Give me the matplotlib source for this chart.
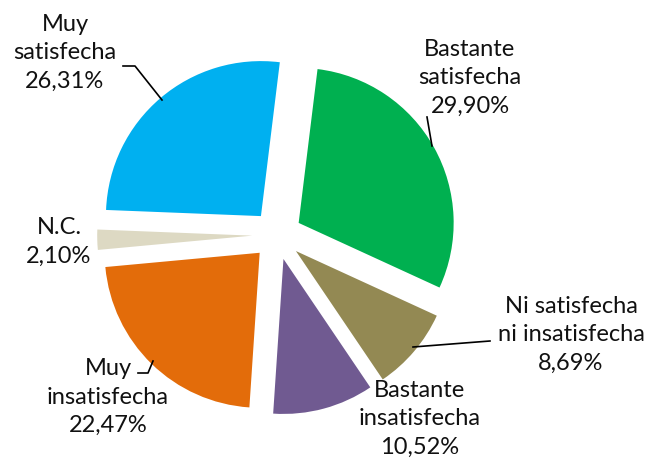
import matplotlib.pyplot as plt

labels = ["Bastante\nsatisfecha", "Ni satisfecha\nni insatisfecha", "Bastante\ninsatisfecha",
          "Muy\ninsatisfecha", "N.C.", "Muy\nsatisfecha"]
values = [29.90, 8.69, 10.52, 22.47, 2.10, 26.31]
pct_labels = ["29,90%", "8,69%", "10,52%", "22,47%", "2,10%", "26,31%"]
colors = ["#00B050", "#938953", "#705A91", "#E36C0A", "#DDD9C3", "#00B0F0"]

W, H = 650, 464
cx, cy, R = 277, 236, 155  # pie centre and radius in pixels


def px(x, y):
    return (x - cx) / R, (cy - y) / R


fig = plt.figure(figsize=(W / 100, H / 100), dpi=100)
ax = fig.add_axes([0, 0, 1, 1])
ax.pie(values, colors=colors, startangle=83, counterclock=False,
       explode=[0.16] * len(values), wedgeprops=dict(linewidth=0))
ax.set_xlim(-cx / R, (W - cx) / R)
ax.set_ylim(-(H - cy) / R, cy / R)
ax.set_aspect("auto")
ax.axis("off")

# label block centres (pixels)
label_pos = [(470, 78), (571, 335), (420, 419), (108, 397), (59, 242), (65, 53)]
for lab, pct, (x, y) in zip(labels, pct_labels, label_pos):
    tx, ty = px(x, y)
    ax.text(tx, ty, lab + "\n" + pct, ha="center", va="center", fontsize=17,
            family="Lato", linespacing=1.42, color="#111111")

leaders = [
    [(123, 67), (135, 67), (162, 101)],
    [(427, 118), (432, 147)],
    [(490, 342), (477, 343), (413, 348)],
    [(138, 374), (148, 374), (153, 362)],
]
for pts in leaders:
    xs, ys = zip(*[px(x, y) for x, y in pts])
    ax.plot(xs, ys, color="black", lw=1.2)

fig.savefig("out.png", dpi=100)
